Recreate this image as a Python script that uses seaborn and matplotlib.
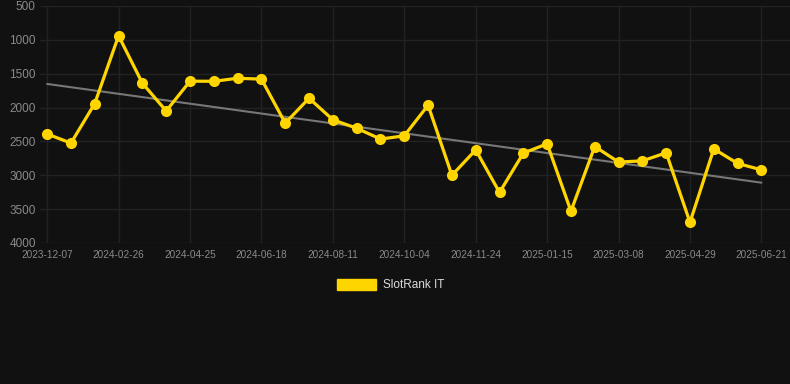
import numpy as np
import pandas as pd
import matplotlib
matplotlib.use("Agg")
import matplotlib.pyplot as plt
import matplotlib.patches as mpatches
import seaborn as sns

# rank values (lower is better, axis is inverted)
ranks = [2390, 2525, 1940, 940, 1640, 2050, 1610, 1612, 1567, 1580,
         2230, 1862, 2180, 2305, 2465, 2417, 1965, 3000, 2625, 3253,
         2673, 2535, 3530, 2575, 2805, 2787, 2668, 3695, 2610, 2825, 2920]
tick_labels = ["2023-12-07", "2024-02-26", "2024-04-25", "2024-06-18",
               "2024-08-11", "2024-10-04", "2024-11-24", "2025-01-15",
               "2025-03-08", "2025-04-29", "2025-06-21"]
y_ticks = [500, 1000, 1500, 2000, 2500, 3000, 3500, 4000]
series_name = "SlotRank IT"

df = pd.DataFrame({"idx": np.arange(len(ranks)), "rank": ranks})

# linear trend
slope, intercept = np.polyfit(df["idx"], df["rank"], 1)
df["trend"] = intercept + slope * df["idx"]

bg = "#111111"
sns.set_style("dark")
plt.rcParams["font.family"] = ["Liberation Sans", "DejaVu Sans"]

fig = plt.figure(figsize=(7.9, 3.84), dpi=100, facecolor=bg)
ax = fig.add_axes([40 / 790, 1 - 243 / 384, 750 / 790, 237 / 384])
ax.set_facecolor(bg)

sns.lineplot(data=df, x="idx", y="trend", ax=ax, color="#777777", linewidth=1.5)
sns.lineplot(data=df, x="idx", y="rank", ax=ax, color="#FFD500", linewidth=2.3,
             marker="o", markersize=8, markeredgewidth=0, zorder=3)

ax.set_ylim(4000, 500)
ax.set_xlim(-0.3, 31.2)
ax.set_yticks(y_ticks)
ax.set_xticks(np.arange(0, len(ranks), 3))
ax.set_xticklabels(tick_labels)
ax.set_xlabel("")
ax.set_ylabel("")
ax.grid(True, color="#222222", linewidth=1)
ax.tick_params(axis="y", colors="#8a8a8a", labelsize=8.5, length=0, pad=3)
ax.tick_params(axis="x", colors="#8a8a8a", labelsize=7.2, length=0, pad=5)
for s in ax.spines.values():
    s.set_visible(False)

handle = mpatches.Patch(color="#FFD500", label=series_name)
fig.legend(handles=[handle], loc="center", bbox_to_anchor=(0.494, 1 - 285 / 384),
           frameon=False, labelcolor="#dddddd", fontsize=8.5,
           handlelength=3.3, handleheight=1.1, handletextpad=0.6)

fig.savefig("out.png", dpi=100, facecolor=bg)
